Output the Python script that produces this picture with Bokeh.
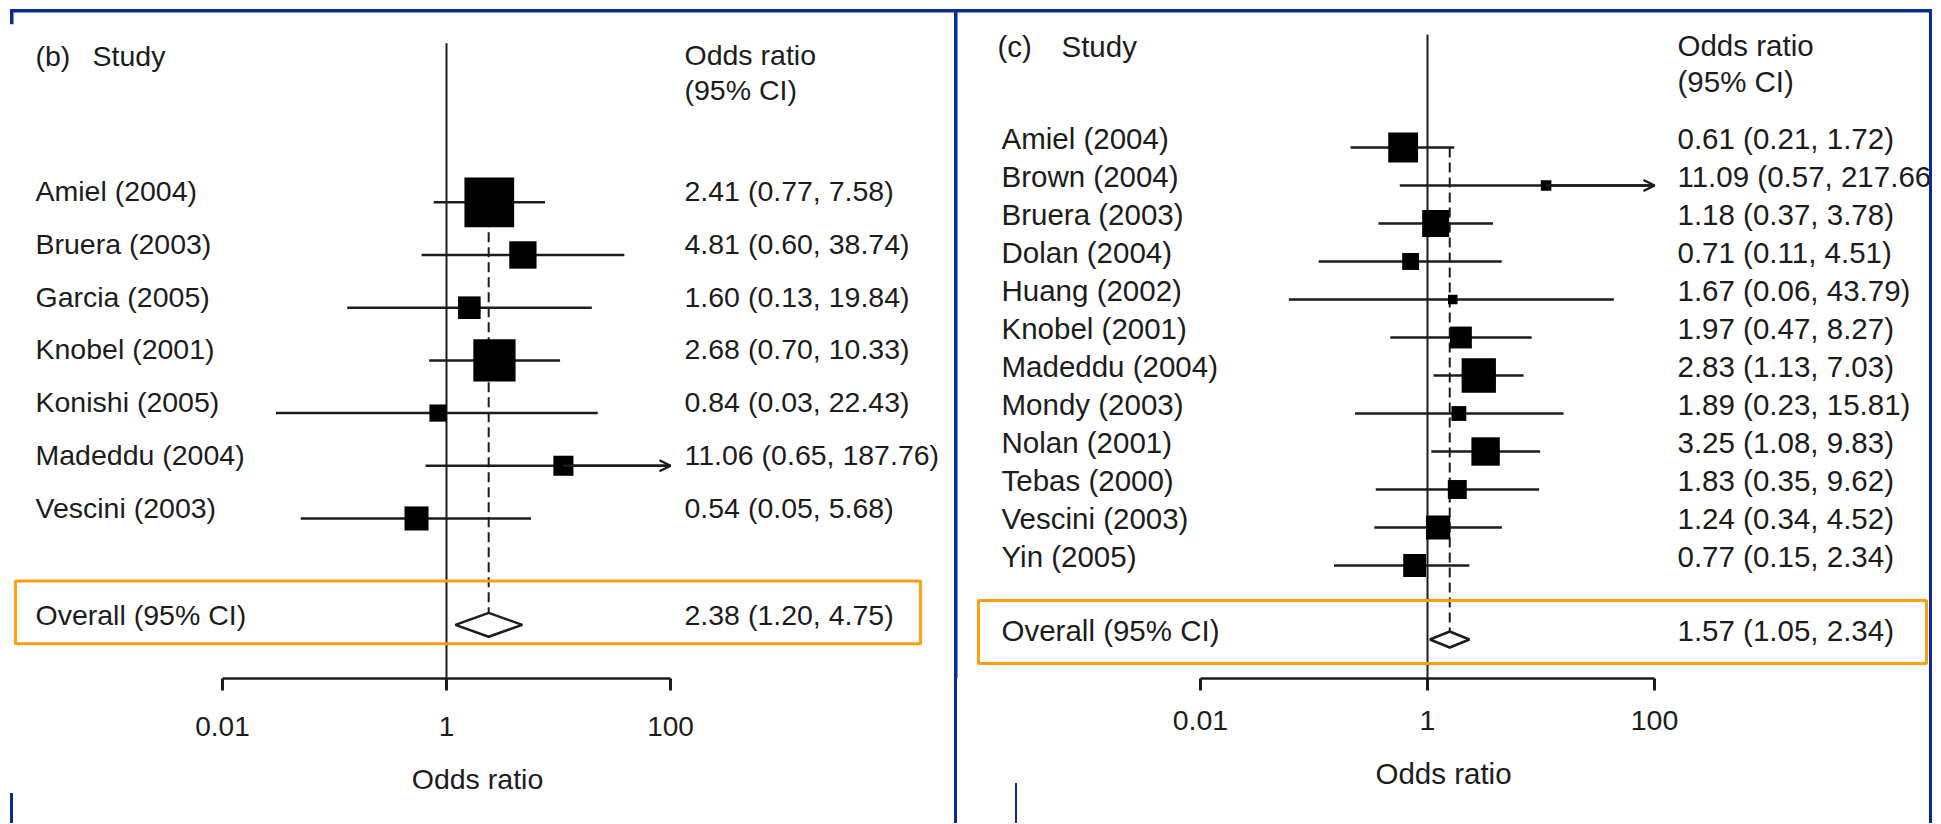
import numpy as np
from bokeh.plotting import figure
from bokeh.models import (ColumnDataSource, Range1d, FixedTicker, CustomJSTickFormatter,
                          BoxAnnotation, Arrow, OpenHead)
from bokeh.layouts import row
from bokeh.core.properties import value
from bokeh.embed import file_html
from bokeh.resources import INLINE

# ---------------- data ----------------
b_studies = ["Amiel (2004)", "Bruera (2003)", "Garcia (2005)", "Knobel (2001)",
             "Konishi (2005)", "Madeddu (2004)", "Vescini (2003)"]
b_or = [2.41, 4.81, 1.60, 2.68, 0.84, 11.06, 0.54]
b_lo = [0.77, 0.60, 0.13, 0.70, 0.03, 0.65, 0.05]
b_hi = [7.58, 38.74, 19.84, 10.33, 22.43, 187.76, 5.68]
b_overall = [2.38, 1.20, 4.75]

c_studies = ["Amiel (2004)", "Brown (2004)", "Bruera (2003)", "Dolan (2004)",
             "Huang (2002)", "Knobel (2001)", "Madeddu (2004)", "Mondy (2003)",
             "Nolan (2001)", "Tebas (2000)", "Vescini (2003)", "Yin (2005)"]
c_or = [0.61, 11.09, 1.18, 0.71, 1.67, 1.97, 2.83, 1.89, 3.25, 1.83, 1.24, 0.77]
c_lo = [0.21, 0.57, 0.37, 0.11, 0.06, 0.47, 1.13, 0.23, 1.08, 0.35, 0.34, 0.15]
c_hi = [1.72, 217.66, 3.78, 4.51, 43.79, 8.27, 7.03, 15.81, 9.83, 9.62, 4.52, 2.34]
c_overall = [1.57, 1.05, 2.34]

tick_values = [0.01, 1, 100]
tick_labels = ["0.01", "1", "100"]

# ---------------- style ----------------
INK = "#1c1c1c"
BLUE = "#0a2a96"
ORANGE = "#ff9c0f"
FONT = "Liberation Sans"
H = 823


def fmt(o, l, h):
    return f"{o:.2f} ({l:.2f}, {h:.2f})"


def css_bars(bars):
    imgs = ", ".join([f"linear-gradient({BLUE}, {BLUE})"] * len(bars))
    sizes = ", ".join(f"{b - a}px {bt - t}px" for (a, b, t, bt) in bars)
    poss = ", ".join(f"{a}px {t}px" for (a, b, t, bt) in bars)
    return {"background-color": "white", "background-image": imgs,
            "background-size": sizes, "background-position": poss,
            "background-repeat": "no-repeat"}


def make_panel(tag, studies, ors, los, his, overall, L):
    W, fh, x1, dec = L["W"], L["frame_h"], L["x1"], L["dec"]

    def X(px):
        return 10 ** ((px - x1) / dec)

    fs = L["font"]
    p = figure(width=W, height=H, x_axis_type="log",
               x_range=Range1d(X(0), X(W)), y_range=Range1d(fh, 0),
               output_backend="svg", toolbar_location=None, y_axis_location=None,
               min_border_left=0, min_border_right=0, min_border_top=0,
               min_border_bottom=H - fh, outline_line_color=None,
               background_fill_color=None, border_fill_color=None,
               styles=css_bars(L["blue"]))
    p.grid.visible = False

    ors = np.array(ors, dtype=float)
    los = np.array(los, dtype=float)
    his = np.array(his, dtype=float)
    n = len(studies)
    ys = L["row0"] + L["dy"] * np.arange(n)
    cap = tick_values[-1]
    his_c = np.minimum(his, cap)
    se = (np.log(his) - np.log(los)) / (2 * 1.96)
    size = L["k"] / se

    src = ColumnDataSource(dict(study=studies, orv=ors, lo=los, hi=his_c, y=ys,
                                ty=ys + L["toff"], size=size,
                                lab=[fmt(o, l, h) for o, l, h in zip(ors, los, his)]))

    o_or, o_lo, o_hi = overall
    oy = L["ov_y"]
    dh = L["dia_h"]

    # reference line at OR = 1
    p.segment(x0=[1], y0=[L["vtop"]], x1=[1], y1=[fh], line_color=INK, line_width=2)
    # dashed overall line
    p.segment(x0=[o_or], y0=[ys[0]], x1=[o_or], y1=[oy - dh], line_color=INK,
              line_width=2, line_dash="10 5")
    # CIs
    p.segment(x0="lo", y0="y", x1="hi", y1="y", source=src, line_color=INK, line_width=2.5)
    trunc = his > cap
    if trunc.any():
        tsrc = ColumnDataSource(dict(x0=ors[trunc], y=ys[trunc], x1=his_c[trunc]))
        p.add_layout(Arrow(end=OpenHead(size=11, line_width=2.5, line_color=INK),
                           x_start="x0", y_start="y", x_end="x1", y_end="y",
                           source=tsrc, line_width=2.5, line_color=INK))
    # squares
    p.scatter("orv", "y", size="size", marker="square", source=src,
              fill_color="black", line_color=None)
    # diamond
    p.patches(xs=[[o_lo, o_or, o_hi, o_or]], ys=[[oy, oy - dh, oy, oy + dh]],
              fill_color="white", line_color=INK, line_width=2.5)

    tkw = dict(text_font=value(FONT), text_font_size=value(fs), text_color=INK,
               text_baseline="middle", text_align="left")
    # study names and OR labels
    p.text(x=X(L["x_name"]), y="ty", text="study", source=src, **tkw)
    p.text(x=X(L["x_or"]), y="ty", text="lab", source=src, **tkw)
    # headers
    p.text(x=[X(L["x_tag"])], y=[L["head_y"]], text=[tag], **tkw)
    p.text(x=[X(L["x_study"])], y=[L["head_y"]], text=["Study"], **tkw)
    p.text(x=[X(L["x_or"])], y=[L["orh1"]], text=["Odds ratio"], **tkw)
    p.text(x=[X(L["x_or"])], y=[L["orh2"]], text=["(95% CI)"], **tkw)
    # overall row
    p.text(x=[X(L["x_name"])], y=[L["ov_ty"]], text=["Overall (95% CI)"], **tkw)
    p.text(x=[X(L["x_or"])], y=[L["ov_ty"]], text=[fmt(o_or, o_lo, o_hi)], **tkw)

    # orange highlight box
    bx0, bx1, by0, by1 = L["box"]
    p.add_layout(BoxAnnotation(left=X(bx0), right=X(bx1), top=by0, bottom=by1,
                               fill_alpha=0, line_color=ORANGE, line_alpha=1,
                               line_width=3))

    # blue frame remnants inside the frame (CSS background covers the rest)
    for (a, b, t, bt) in L["blue"]:
        if t >= fh:
            continue
        p.add_layout(BoxAnnotation(left=X(a), right=X(b), top=t, bottom=min(bt, fh),
                                   fill_color=BLUE, fill_alpha=1, line_color=None,
                                   line_alpha=0, level="overlay"))

    ax = p.xaxis[0]
    ax.ticker = FixedTicker(ticks=tick_values)
    ax.formatter = CustomJSTickFormatter(
        args=dict(vals=tick_values, labs=tick_labels),
        code="""
        for (let i = 0; i < vals.length; i++) {
            if (Math.abs(vals[i] - tick) <= 1e-9 * Math.max(1, Math.abs(vals[i]))) return labs[i];
        }
        return '';
        """)
    ax.bounds = (tick_values[0], tick_values[-1])
    ax.axis_line_color = INK
    ax.axis_line_width = 2.5
    ax.major_tick_line_color = INK
    ax.major_tick_line_width = 3
    ax.major_tick_out = 12
    ax.major_tick_in = 0
    ax.minor_tick_line_color = None
    ax.major_label_text_font = FONT
    ax.major_label_text_font_size = L["tick_font"]
    ax.major_label_text_color = INK
    ax.major_label_standoff = L["lab_standoff"]
    ax.axis_label = "Odds ratio"
    ax.axis_label_text_font = FONT
    ax.axis_label_text_font_style = "normal"
    ax.axis_label_text_font_size = fs
    ax.axis_label_text_color = INK
    ax.axis_label_standoff = L["title_standoff"]
    return p


LB = dict(W=954, frame_h=682, x1=446, dec=112, row0=203, dy=53, toff=-11,
          ov_y=628, ov_ty=618, dia_h=12, vtop=43, head_y=56, orh1=55, orh2=90,
          x_name=35, x_tag=35, x_study=92, x_or=684, k=29, font="28.5px",
          tick_font="28px", lab_standoff=26, title_standoff=24,
          box=(15, 920, 584, 647),
          blue=[(11, 954, 9, 12), (10, 13, 9, 24), (10, 13, 793, 823)])

LC = dict(W=978, frame_h=678, x1=473, dec=113.5, row0=147, dy=38, toff=-9.5,
          ov_y=639, ov_ty=630, dia_h=8, vtop=34, head_y=46, orh1=45, orh2=81,
          x_name=47, x_tag=43, x_study=107, x_or=723, k=16, font="29.5px",
          tick_font="28.5px", lab_standoff=20, title_standoff=24,
          box=(24, 972, 600, 663),
          blue=[(0, 978, 9, 12), (0, 3, 9, 823), (975, 978, 9, 823), (61, 63, 783, 823)])

p1 = make_panel("(b)", b_studies, b_or, b_lo, b_hi, b_overall, LB)
p2 = make_panel("(c)", c_studies, c_or, c_lo, c_hi, c_overall, LC)

layout = row(p1, p2, spacing=0)
open("out.html", "w").write(file_html(layout, INLINE))
